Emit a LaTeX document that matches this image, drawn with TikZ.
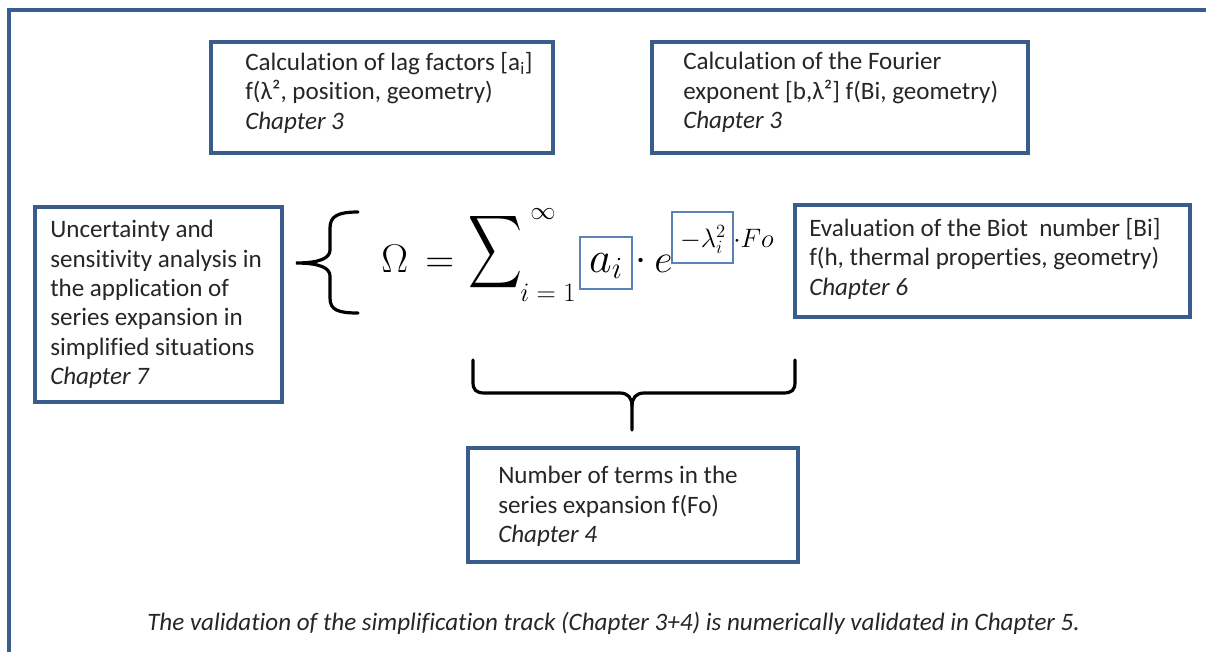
\documentclass[tikz,border=0pt]{standalone}
\usepackage{fix-cm}
\usepackage[no-math]{fontspec}
\setmainfont{Carlito}[Ligatures=NoCommon]
\usepackage{graphicx}
\definecolor{frameblue}{RGB}{58,92,140}
\definecolor{lightblue}{RGB}{90,130,185}
\begin{document}
\begin{tikzpicture}[x=0.75pt,y=-0.75pt,
  box/.style={draw=frameblue, line width=2.3pt, inner sep=0pt},
  txt/.style={anchor=north west, inner sep=0pt, align=left, font=\fontsize{18.8}{22}\selectfont, text=black!85},
  mbox/.style={draw=lightblue, line width=0.8pt, inner sep=0pt},
  brace/.style={draw=black, line width=2.4pt, line cap=round}]
\useasboundingbox (0,0) rectangle (1206,651);
% outer frame
\coordinate (fbl) at (9,665);
\coordinate (ftl) at (9,10);
\coordinate (ftr) at (1220,10);
\draw[frameblue, line width=2.3pt] (fbl) -- (ftl) -- (ftr);

% boxes
\node[box, minimum width=256.5pt, minimum height=83.25pt] (A) at (382,97.5) {};
\node[box, minimum width=282pt, minimum height=83.25pt] (B) at (840,97.5) {};
\node[box, minimum width=296.25pt, minimum height=84pt] (C) at (992.5,261) {};
\node[box, minimum width=185.25pt, minimum height=146.25pt] (D) at (158.5,304.5) {};
\node[box, minimum width=247.5pt, minimum height=85.5pt] (E) at (633,505) {};

\node[txt] (At) at (245,52) {Calculation of lag factors [a\textsubscript{i}]\\f(λ², position, geometry)\\\textit{Chapter 3}};
\node[txt] (Bt) at (683,52) {Calculation of the Fourier\\exponent [b,λ²] f(Bi, geometry)\\\textit{Chapter 3}};
\node[txt] (Ct) at (809,218) {Evaluation of the Biot\ \ number [Bi]\\f(h, thermal properties, geometry)\\\textit{Chapter 6}};
\node[txt] (Dt) at (50,220) {Uncertainty and\\sensitivity analysis in\\the application of\\series expansion in\\simplified situations\\\textit{Chapter 7}};
\node[txt] (Et) at (498,466) {Number of terms in the\\series expansion f(Fo)\\\textit{Chapter 4}};

% formula
\node[anchor=base west, inner sep=0pt, font=\fontsize{30}{31}\selectfont] (om) at (381,272) {$\Omega$};
\node[anchor=base west, inner sep=0pt, font=\fontsize{30}{31}\selectfont] (eq) at (425,272) {$=$};
\node[inner sep=0pt] (sum) at (495,252) {\resizebox*{40.5pt}{61pt}{$\displaystyle\sum$}};
\node[inner sep=0pt, font=\fontsize{19}{20}\selectfont] (inf) at (543,214) {$\infty$};
\node[inner sep=0pt, font=\fontsize{20}{21}\selectfont] (low) at (548,293) {$i=1$};
\node[mbox, minimum width=39pt, minimum height=39pt] (ai) at (606,263) {};
\node[anchor=base, inner sep=0pt, font=\fontsize{33}{34}\selectfont] (ait) at (606,272) {$a_i$};
\node[inner sep=0pt, font=\fontsize{30}{31}\selectfont] (dot) at (641,262) {$\cdot$};
\node[anchor=base west, inner sep=0pt, font=\fontsize{30}{31}\selectfont] (e) at (654,272) {$e$};
\node[mbox, minimum width=45.75pt, minimum height=38.25pt] (ex) at (702.5,237.5) {};
\node[anchor=base, inner sep=0pt, font=\fontsize{20}{21}\selectfont] (ext) at (703,247) {$-\lambda_i^2$};
\node[anchor=base west, inner sep=0pt, font=\fontsize{20}{21}\selectfont] (fo) at (733,247) {$\cdot Fo$};

% left brace
\coordinate (lbt) at (358,212);
\coordinate (lbtip) at (296,263);
\coordinate (lbb) at (358,313);
\draw[brace] (lbt) .. controls (338,212) and (330,216) .. (330,228) -- (330,250)
  .. controls (330,258) and (320,263) .. (lbtip)
  .. controls (320,263) and (330,268) .. (330,276) -- (330,298)
  .. controls (330,310) and (338,313) .. (lbb);

% bottom brace
\coordinate (bbl) at (473,360);
\coordinate (bbr) at (795,360);
\coordinate (bbtip) at (632,430);
\draw[brace] (bbl) -- (473,382) .. controls (473,390) and (476,393) .. (485,393) -- (620,393)
  .. controls (628,393) and (632,398) .. (632,406) -- (bbtip);
\draw[brace] (632,406) .. controls (632,398) and (636,393) .. (644,393) -- (783,393)
  .. controls (792,393) and (795,390) .. (795,382) -- (bbr);

% caption
\node[anchor=base west, inner sep=0pt, font=\fontsize{18.8}{22}\selectfont\itshape, text=black!85] (cap) at (147,630) {The validation of the simplification track (Chapter 3+4) is numerically validated in Chapter 5.};
\end{tikzpicture}
\end{document}
